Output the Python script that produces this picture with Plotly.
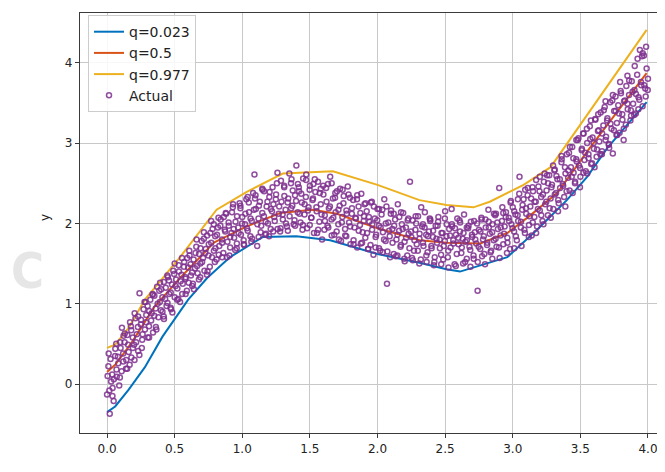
import plotly.graph_objects as go

# ---- quantile lines ----
q023_x = [0, 0.06, 0.16, 0.28, 0.41, 0.60, 0.74, 0.91, 1.15, 1.40, 1.65, 2.0, 2.31, 2.51, 2.61, 2.96, 3.18, 3.40, 3.55, 3.70, 3.99]
q023_y = [-0.35, -0.28, -0.07, 0.21, 0.59, 1.05, 1.32, 1.58, 1.83, 1.84, 1.79, 1.62, 1.51, 1.43, 1.40, 1.58, 1.92, 2.29, 2.58, 2.94, 3.51]

q5_x = [0, 0.06, 0.18, 0.35, 0.54, 0.79, 1.03, 1.28, 1.52, 1.70, 2.0, 2.31, 2.51, 2.76, 2.96, 3.13, 3.33, 3.47, 3.57, 3.99]
q5_y = [0.15, 0.24, 0.51, 0.96, 1.32, 1.76, 1.96, 2.13, 2.17, 2.12, 1.94, 1.79, 1.76, 1.75, 1.88, 2.10, 2.38, 2.70, 2.94, 3.87]

q977_x = [0, 0.06, 0.16, 0.28, 0.54, 0.81, 1.03, 1.30, 1.67, 2.0, 2.31, 2.51, 2.71, 2.83, 3.08, 3.28, 3.99]
q977_y = [0.45, 0.49, 0.70, 1.05, 1.58, 2.17, 2.39, 2.62, 2.65, 2.48, 2.29, 2.23, 2.20, 2.27, 2.48, 2.70, 4.41]

actual_x1 = [round(i * 0.01, 2) for i in range(401)]
actual_y1 = [
    -0.13, 0.22, -0.37, 0.03, -0.15, 0.06, 0.35, 0.18, 0.34, -0.02,
    0.45, 0.70, 0.28, 0.52, 0.19, 0.61, 0.40, 0.77, 0.33, 0.58,
    0.49, 0.82, 0.62, 0.41, 1.13, 0.74, 0.55, 0.93, 0.68, 0.86,
    0.97, 0.72, 1.05, 0.88, 0.64, 1.10, 0.94, 1.21, 0.83, 1.02,
    1.18, 0.90, 1.27, 1.06, 0.97, 1.33, 1.12, 0.95, 1.24, 1.41,
    1.08, 1.30, 1.19, 1.48, 1.02, 1.36, 1.25, 1.52, 1.31, 1.16,
    1.45, 1.60, 1.35, 1.22, 1.55, 1.44, 1.71, 1.38, 1.62, 1.50,
    1.78, 1.57, 1.41, 1.68, 1.85, 1.60, 1.46, 1.76, 1.93, 1.66,
    1.84, 1.55, 1.95, 1.72, 2.05, 1.80, 1.63, 1.92, 2.12, 1.77,
    1.97, 1.70, 1.88, 2.20, 1.82, 2.02, 1.75, 1.95, 2.25, 1.86,
    2.08, 1.79, 1.99, 2.30, 1.91, 2.14, 1.84, 2.03, 2.38, 2.61,
    2.18, 1.72, 2.06, 2.27, 1.97, 2.42, 2.09, 1.86, 2.21, 2.00,
    2.33, 1.93, 2.15, 2.24, 2.03, 2.36, 2.63, 2.12, 1.90, 2.27,
    2.05, 2.45, 2.17, 1.96, 2.31, 2.09, 2.50, 2.22, 1.99, 2.35,
    2.72, 2.14, 2.40, 2.01, 2.26, 2.56, 2.11, 2.33, 1.94, 2.20,
    2.47, 2.07, 2.29, 1.88, 2.39, 2.15, 2.52, 2.02, 2.24, 1.80,
    2.36, 2.10, 2.44, 1.97, 2.19, 2.58, 2.05, 2.31, 1.86, 2.14,
    2.40, 1.99, 2.22, 1.78, 2.08, 2.34, 1.93, 2.16, 2.46, 2.01,
    1.74, 2.12, 2.29, 1.95, 2.06, 1.70, 2.21, 1.98, 2.37, 1.89,
    2.09, 1.82, 2.15, 1.68, 2.02, 2.26, 1.92, 1.61, 2.06, 1.86,
    2.18, 1.97, 1.66, 2.11, 1.89, 2.30, 1.78, 1.25, 2.01, 1.84,
    2.16, 1.93, 1.62, 2.05, 1.80, 2.24, 1.91, 1.71, 1.99, 2.13,
    1.77, 1.95, 1.60, 1.87, 2.52, 1.83, 2.04, 1.66, 1.92, 1.74,
    2.09, 1.81, 1.55, 1.96, 1.72, 2.14, 1.86, 1.64, 1.90, 2.03,
    1.69, 1.83, 1.52, 1.97, 1.76, 2.08, 1.80, 1.61, 1.88, 1.72,
    2.15, 1.84, 1.58, 1.93, 1.70, 1.99, 1.79, 1.49, 1.86, 2.06,
    1.74, 1.90, 1.63, 1.81, 2.11, 1.77, 1.56, 1.94, 1.71, 2.02,
    1.83, 1.60, 1.89, 1.75, 1.16, 1.92, 1.68, 2.05, 1.80, 1.62,
    1.95, 1.73, 2.17, 1.87, 1.66, 1.99, 1.79, 2.10, 1.71, 1.93,
    2.44, 1.85, 2.03, 1.74, 1.96, 2.14, 1.82, 2.07, 1.68, 1.99,
    2.20, 1.90, 2.11, 1.79, 2.03, 2.58, 1.95, 2.17, 2.30, 1.88,
    2.12, 2.35, 1.98, 2.21, 1.85, 2.40, 2.08, 2.27, 1.96, 2.46,
    2.16, 2.33, 2.03, 2.52, 2.24, 2.41, 2.10, 2.60, 2.31, 2.48,
    2.18, 2.67, 2.38, 2.55, 2.25, 2.44, 2.76, 2.49, 2.33, 2.62,
    2.86, 2.57, 2.41, 2.70, 2.95, 2.63, 2.50, 2.80, 3.04, 2.72,
    2.58, 2.91, 3.12, 2.79, 2.65, 3.00, 2.86, 3.21, 2.74, 3.07,
    2.93, 3.30, 2.83, 3.15, 3.02, 3.38, 2.90, 3.22, 3.45, 3.08,
    3.31, 2.98, 3.51, 3.18, 2.87, 3.40, 3.58, 3.25, 3.47, 3.13,
    3.62, 3.36, 3.04, 3.53, 3.71, 3.42, 3.60, 3.28, 3.77, 3.49,
    3.66, 3.37, 3.85, 3.57, 4.16, 3.72, 3.46, 4.09, 3.68, 3.93,
    3.80,
]

actual_x2 = [
    0.004, 0.017, 0.026, 0.038, 0.049, 0.061, 0.072, 0.083, 0.097, 0.108,
    0.119, 0.131, 0.142, 0.156, 0.167, 0.179, 0.191, 0.204, 0.215, 0.228,
    0.239, 0.251, 0.263, 0.277, 0.288, 0.301, 0.312, 0.326, 0.337, 0.349,
    0.361, 0.374, 0.386, 0.398, 0.409, 0.421, 0.434, 0.447, 0.458, 0.471,
    0.483, 0.496, 0.507, 0.519, 0.532, 0.544, 0.556, 0.569, 0.581, 0.593,
    0.604, 0.617, 0.629, 0.642, 0.654, 0.666, 0.679, 0.691, 0.703, 0.716,
    0.727, 0.739, 0.752, 0.764, 0.776, 0.789, 0.801, 0.813, 0.826, 0.838,
    0.851, 0.863, 0.874, 0.887, 0.899, 0.911, 0.924, 0.936, 0.948, 0.961,
    0.973, 0.986, 0.998, 1.011, 1.023, 1.035, 1.048, 1.061, 1.073, 1.086,
    1.098, 1.111, 1.123, 1.136, 1.148, 1.161, 1.173, 1.186, 1.198, 1.211,
    1.224, 1.236, 1.248, 1.261, 1.273, 1.286, 1.298, 1.311, 1.323, 1.336,
    1.348, 1.361, 1.373, 1.386, 1.398, 1.411, 1.423, 1.436, 1.448, 1.461,
    1.473, 1.486, 1.498, 1.511, 1.523, 1.536, 1.548, 1.561, 1.573, 1.586,
    1.598, 1.611, 1.623, 1.636, 1.648, 1.661, 1.673, 1.686, 1.698, 1.711,
    1.723, 1.736, 1.748, 1.761, 1.773, 1.786, 1.798, 1.811, 1.823, 1.836,
    1.848, 1.861, 1.873, 1.886, 1.898, 1.911, 1.923, 1.936, 1.948, 1.961,
    1.973, 1.986, 1.998, 2.011, 2.023, 2.036, 2.048, 2.061, 2.073, 2.086,
    2.098, 2.111, 2.123, 2.136, 2.148, 2.161, 2.173, 2.186, 2.198, 2.211,
    2.223, 2.236, 2.248, 2.261, 2.273, 2.286, 2.298, 2.311, 2.323, 2.336,
    2.348, 2.361, 2.373, 2.386, 2.398, 2.411, 2.423, 2.436, 2.448, 2.461,
    2.473, 2.486, 2.498, 2.511, 2.523, 2.536, 2.548, 2.561, 2.573, 2.586,
    2.598, 2.611, 2.623, 2.636, 2.648, 2.661, 2.673, 2.686, 2.698, 2.711,
    2.723, 2.736, 2.748, 2.761, 2.773, 2.786, 2.798, 2.811, 2.823, 2.836,
    2.848, 2.861, 2.873, 2.886, 2.898, 2.911, 2.923, 2.936, 2.948, 2.961,
    2.973, 2.986, 2.998, 3.011, 3.023, 3.036, 3.048, 3.061, 3.073, 3.086,
    3.098, 3.111, 3.123, 3.136, 3.148, 3.161, 3.173, 3.186, 3.198, 3.211,
    3.223, 3.236, 3.248, 3.261, 3.273, 3.286, 3.298, 3.311, 3.323, 3.336,
    3.348, 3.361, 3.373, 3.386, 3.398, 3.411, 3.423, 3.436, 3.448, 3.461,
    3.473, 3.486, 3.498, 3.511, 3.523, 3.536, 3.548, 3.561, 3.573, 3.586,
    3.598, 3.611, 3.623, 3.636, 3.648, 3.661, 3.673, 3.686, 3.698, 3.711,
    3.723, 3.736, 3.748, 3.761, 3.773, 3.786, 3.798, 3.811, 3.823, 3.836,
    3.848, 3.861, 3.873, 3.886, 3.898, 3.911, 3.923, 3.936, 3.948, 3.961,
    3.973, 3.986, 3.998,
]
actual_y2 = [
    0.10, -0.08, 0.31, 0.12, -0.21, 0.44, 0.09, 0.26, 0.52, 0.16,
    0.38, 0.63, 0.30, 0.49, 0.24, 0.67, 0.45, 0.88, 0.52, 0.71,
    0.36, 0.80, 0.62, 1.02, 0.77, 0.58, 0.91, 0.79, 1.12, 0.85,
    0.71, 1.00, 1.16, 0.92, 1.08, 0.81, 1.20, 1.01, 1.29, 1.14,
    0.89, 1.37, 1.22, 1.05, 1.40, 1.28, 1.12, 1.46, 1.33, 1.57,
    1.26, 1.49, 1.39, 1.18, 1.63, 1.47, 1.30, 1.69, 1.52, 1.81,
    1.63, 1.36, 1.74, 1.88, 1.58, 1.99, 1.69, 1.86, 1.61, 1.97,
    1.76, 2.08, 1.90, 1.58, 2.01, 1.83, 2.14, 1.93, 1.67, 2.09,
    1.88, 2.19, 2.00, 1.74, 2.12, 1.94, 2.26, 2.06, 1.81, 2.17,
    2.35, 1.99, 2.22, 1.89, 2.13, 2.40, 2.02, 2.27, 1.84, 2.18,
    2.45, 2.08, 2.30, 1.93, 2.21, 2.53, 2.11, 2.34, 2.00, 2.26,
    2.62, 2.19, 2.41, 2.04, 2.28, 2.49, 2.12, 2.37, 1.98, 2.24,
    2.61, 2.16, 2.42, 2.07, 2.31, 2.55, 2.20, 1.92, 2.38, 2.11,
    2.47, 2.03, 2.27, 1.95, 2.21, 2.50, 2.07, 2.32, 1.90, 2.17,
    2.43, 2.01, 2.25, 1.85, 2.12, 2.36, 1.96, 2.19, 1.79, 2.07,
    2.30, 1.91, 2.13, 1.76, 2.03, 2.25, 1.88, 2.08, 1.73, 1.99,
    2.21, 1.83, 2.04, 1.69, 1.95, 2.17, 1.80, 2.00, 1.65, 1.91,
    2.12, 1.76, 1.97, 1.59, 1.86, 2.08, 1.73, 1.93, 1.56, 1.82,
    2.04, 1.69, 1.90, 1.54, 1.79, 2.00, 1.66, 1.87, 2.20, 1.76,
    1.95, 1.60, 1.84, 2.06, 1.72, 1.91, 1.58, 1.81, 2.02, 1.69,
    1.88, 1.55, 1.78, 1.99, 1.66, 1.85, 2.18, 1.75, 1.94, 1.62,
    1.82, 2.01, 1.70, 1.88, 1.52, 1.79, 1.97, 1.67, 1.86, 1.56,
    1.80, 2.00, 1.71, 1.90, 1.59, 1.84, 2.05, 1.76, 1.95, 1.64,
    1.89, 2.12, 1.81, 2.01, 1.70, 1.95, 2.20, 1.87, 2.08, 1.76,
    2.03, 2.28, 1.94, 2.15, 1.84, 2.10, 2.37, 2.02, 2.23, 1.92,
    2.19, 2.44, 2.09, 2.31, 2.01, 2.27, 2.54, 2.18, 2.40, 2.10,
    2.36, 2.62, 2.27, 2.50, 2.19, 2.45, 2.72, 2.36, 2.59, 2.29,
    2.55, 2.84, 2.47, 2.70, 2.40, 2.66, 2.95, 2.58, 2.81, 2.52,
    2.77, 3.06, 2.69, 2.93, 2.63, 2.88, 3.18, 2.81, 3.05, 2.75,
    3.00, 3.29, 2.92, 3.16, 2.86, 3.12, 3.41, 3.04, 3.28, 2.99,
    3.24, 3.53, 3.16, 3.40, 3.10, 3.37, 3.65, 3.29, 3.52, 3.23,
    3.49, 3.78, 3.41, 3.64, 3.35, 3.61, 4.05, 3.54, 3.76, 4.12,
    3.72, 4.20, 3.66,
]

actual_x3 = [
    0.012, 0.041, 0.068, 0.095, 0.122, 0.149, 0.176, 0.203, 0.230, 0.257,
    0.284, 0.311, 0.338, 0.365, 0.392, 0.419, 0.446, 0.473, 0.500, 0.527,
    0.554, 0.581, 0.608, 0.635, 0.662, 0.689, 0.716, 0.743, 0.770, 0.797,
    0.824, 0.851, 0.878, 0.905, 0.932, 0.959, 0.986, 1.013, 1.040, 1.067,
    1.094, 1.121, 1.148, 1.175, 1.202, 1.229, 1.256, 1.283, 1.310, 1.337,
    1.364, 1.391, 1.418, 1.445, 1.472, 1.499, 1.526, 1.553, 1.580, 1.607,
    1.634, 1.661, 1.688, 1.715, 1.742, 1.769, 1.796, 1.823, 1.850, 1.877,
    1.904, 1.931, 1.958, 1.985, 2.012, 2.039, 2.066, 2.093, 2.120, 2.147,
    2.174, 2.201, 2.228, 2.255, 2.282, 2.309, 2.336, 2.363, 2.390, 2.417,
    2.444, 2.471, 2.498, 2.525, 2.552, 2.579, 2.606, 2.633, 2.660, 2.687,
    2.714, 2.741, 2.768, 2.795, 2.822, 2.849, 2.876, 2.903, 2.930, 2.957,
    2.984, 3.011, 3.038, 3.065, 3.092, 3.119, 3.146, 3.173, 3.200, 3.227,
    3.254, 3.281, 3.308, 3.335, 3.362, 3.389, 3.416, 3.443, 3.470, 3.497,
    3.524, 3.551, 3.578, 3.605, 3.632, 3.659, 3.686, 3.713, 3.740, 3.767,
    3.794, 3.821, 3.848, 3.875, 3.902, 3.929, 3.956, 3.983,
]
actual_y3 = [
    0.38, -0.05, 0.50, 0.08, 0.60, 0.19, 0.72, 0.30, 0.84, 0.45,
    1.02, 0.58, 1.11, 0.68, 1.26, 0.84, 1.35, 0.93, 1.50, 1.06,
    1.57, 1.12, 1.66, 1.25, 1.80, 1.33, 1.89, 1.40, 2.03, 1.52,
    2.07, 1.58, 2.13, 1.60, 2.24, 1.69, 2.22, 1.73, 2.33, 1.77,
    2.31, 1.83, 2.43, 1.87, 2.39, 1.90, 2.50, 1.94, 2.47, 1.91,
    2.55, 1.97, 2.45, 1.92, 2.54, 1.98, 2.49, 1.88, 2.43, 1.92,
    2.49, 1.85, 2.38, 1.80, 2.42, 1.84, 2.32, 1.74, 2.35, 1.75,
    2.24, 1.68, 2.27, 1.70, 2.18, 1.64, 2.21, 1.58, 2.12, 1.60,
    2.14, 1.53, 2.06, 1.57, 2.09, 1.50, 1.99, 1.52, 2.05, 1.48,
    1.97, 1.49, 2.06, 1.45, 1.96, 1.47, 2.04, 1.50, 1.95, 1.46,
    2.03, 1.52, 2.07, 1.49, 2.02, 1.56, 2.12, 1.57, 2.13, 1.63,
    2.26, 1.69, 2.30, 1.72, 2.42, 1.83, 2.45, 1.88, 2.58, 1.99,
    2.60, 2.07, 2.66, 2.15, 2.80, 2.21, 2.88, 2.38, 3.04, 2.45,
    3.12, 2.62, 3.28, 2.70, 3.36, 2.86, 3.52, 2.94, 3.60, 3.10,
    3.76, 3.18, 3.84, 3.34, 3.96, 3.42, 4.08, 3.58,
]

actual_x = actual_x1 + actual_x2 + actual_x3
actual_y = actual_y1 + actual_y2 + actual_y3

PURPLE = "#7E2F8E"
fig = go.Figure()
fig.add_trace(go.Scatter(x=q023_x, y=q023_y, mode="lines", name="q=0.023",
                         line=dict(color="#0072BD", width=2)))
fig.add_trace(go.Scatter(x=q5_x, y=q5_y, mode="lines", name="q=0.5",
                         line=dict(color="#D95319", width=2)))
fig.add_trace(go.Scatter(x=q977_x, y=q977_y, mode="lines", name="q=0.977",
                         line=dict(color="#EDB120", width=2)))
fig.add_trace(go.Scatter(x=actual_x, y=actual_y, mode="markers", name="Actual",
                         marker=dict(symbol="circle-open", size=5, color=PURPLE,
                                     opacity=0.85, line=dict(width=1.5, color=PURPLE))))

axis_common = dict(showgrid=True, gridcolor="#c8c8c8", gridwidth=1,
                   showline=True, linecolor="#3a3a3a", linewidth=1.2,
                   ticks="outside", ticklen=4, tickcolor="#3a3a3a",
                   tickfont=dict(family="DejaVu Sans", size=12, color="#222"),
                   zeroline=False)

# the page body adds an 8px offset; margins compensate for it
fig.update_layout(
    width=665, height=472,
    margin=dict(l=72, r=0, t=5, b=47),
    plot_bgcolor="white", paper_bgcolor="white",
    xaxis=dict(range=[-0.2, 4.185], tickvals=[0, 0.5, 1, 1.5, 2, 2.5, 3, 3.5, 4],
               ticktext=["0.0", "0.5", "1.0", "1.5", "2.0", "2.5", "3.0", "3.5", "4.0"],
               mirror=True, **axis_common),
    yaxis=dict(range=[-0.61, 4.62], tickvals=[0, 1, 2, 3, 4], **axis_common),
    legend=dict(x=0.0135, y=0.995, xanchor="left", yanchor="top",
                bgcolor="rgba(255,255,255,0.85)", bordercolor="#cccccc", borderwidth=1,
                font=dict(family="DejaVu Sans", size=14, color="#222"),
                tracegroupgap=0, itemwidth=30),
    showlegend=True,
)

fig.add_annotation(text="x", xref="paper", yref="paper", x=0.5, y=-0.088,
                   xanchor="center", yanchor="top", showarrow=False,
                   font=dict(family="DejaVu Sans", size=12, color="#222"))
fig.add_annotation(text="y", xref="paper", yref="paper", x=-0.059, y=0.512,
                   xanchor="center", yanchor="middle", showarrow=False, textangle=-90,
                   font=dict(family="DejaVu Sans", size=12, color="#222"))
fig.add_annotation(text="<b>C</b>", xref="paper", yref="paper", x=-0.089, y=0.386,
                   xanchor="center", yanchor="middle", showarrow=False,
                   font=dict(family="Liberation Sans Narrow, DejaVu Sans Condensed, sans-serif",
                             size=50, color="#e6e6e6"))

fig.write_html("out.html")
